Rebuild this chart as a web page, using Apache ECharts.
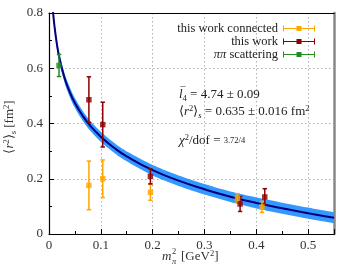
<!DOCTYPE html>
<html><head><meta charset="utf-8">
<script src="https://cdn.jsdelivr.net/npm/echarts/dist/echarts.min.js"></script>
<style>html,body{margin:0;padding:0;background:#fff}#c{width:355px;height:266px}</style>
</head><body><div id="c"></div>
<script>
// ---- data ----
const orangeX = [0.077, 0.1037, 0.1957, 0.3637, 0.411];
const orangeY = [0.176, 0.200, 0.151, 0.130, 0.098];
const orangeErr = [0.088, 0.068, 0.029, 0.016, 0.020];

const redX = [0.077, 0.1037, 0.1957, 0.3688, 0.4164];
const redY = [0.486, 0.396, 0.2085, 0.1086, 0.134];
const redErr = [0.083, 0.081, 0.027, 0.027, 0.030];

const greenX = [0.0193];
const greenY = [0.610];
const greenErr = [0.040];

const fitX = [0.006, 0.008, 0.01, 0.015, 0.02, 0.03, 0.04, 0.05, 0.065, 0.08, 0.1, 0.125, 0.15, 0.2, 0.25, 0.3, 0.35, 0.4, 0.45, 0.5, 0.55];
const fitY = [0.84, 0.80, 0.762, 0.690, 0.638, 0.565, 0.514, 0.474, 0.428, 0.391, 0.352, 0.313, 0.281, 0.231, 0.193, 0.162, 0.135, 0.1125, 0.0935, 0.0755, 0.059];
const fitErr = [0.016, 0.016, 0.016, 0.017, 0.017, 0.017, 0.018, 0.018, 0.018, 0.018, 0.018, 0.018, 0.018, 0.019, 0.019, 0.019, 0.019, 0.02, 0.02, 0.02, 0.02];

const xTickValues = [0, 0.1, 0.2, 0.3, 0.4, 0.5];
const yTickValues = [0, 0.2, 0.4, 0.6, 0.8];

const names = ['this work connected', 'this work', 'ππ scattering'];
const colors = ['#ffa500', '#8b0000', '#228b22'];

// ---- chart ----
const FONT = 'Liberation Serif';
const chart = echarts.init(document.getElementById('c'));

function zip3(xs, ys, es) { return xs.map((x, i) => [x, ys[i], es[i]]); }

function makeErr(color) {
  return function (params, api) {
    const x = api.value(0), y = api.value(1), e = api.value(2);
    const t = api.coord([x, y + e]);
    const b = api.coord([x, y - e]);
    const hw = 2.2;
    const st = { stroke: color, lineWidth: 1.5 };
    return {
      type: 'group',
      children: [
        { type: 'line', shape: { x1: t[0], y1: t[1], x2: b[0], y2: b[1] }, style: st },
        { type: 'line', shape: { x1: t[0] - hw, y1: t[1], x2: t[0] + hw, y2: t[1] }, style: st },
        { type: 'line', shape: { x1: b[0] - hw, y1: b[1], x2: b[0] + hw, y2: b[1] }, style: st }
      ]
    };
  };
}

// Catmull-Rom resampling of pixel points (rendering only)
function spline(pts) {
  const out = [];
  const n = pts.length;
  for (let i = 0; i < n - 1; i++) {
    const p0 = pts[Math.max(i - 1, 0)], p1 = pts[i], p2 = pts[i + 1], p3 = pts[Math.min(i + 2, n - 1)];
    const steps = 10;
    for (let s = 0; s < steps; s++) {
      const t = s / steps, t2 = t * t, t3 = t2 * t;
      out.push([0, 1].map(d => 0.5 * ((2 * p1[d]) + (-p0[d] + p2[d]) * t + (2 * p0[d] - 5 * p1[d] + 4 * p2[d] - p3[d]) * t2 + (-p0[d] + 3 * p1[d] - 3 * p2[d] + p3[d]) * t3)));
    }
  }
  out.push(pts[n - 1]);
  return out;
}

function renderBand(params, api) {
  if (params.dataIndex !== 0) return null;
  const up = fitX.map((x, i) => api.coord([x, fitY[i] + fitErr[i]]));
  const lo = fitX.map((x, i) => api.coord([x, fitY[i] - fitErr[i]]));
  const pts = spline(up).concat(spline(lo).reverse());
  return { type: 'polygon', shape: { points: pts }, style: { fill: '#3399ff', stroke: null } };
}

const iconPath = 'path://M0,0h1v6h-1Z M31,0h1v6h-1Z M0,2.4h32v1.2h-32Z M13.5,0.5h5v5h-5Z';

const rich = {
  i: { fontFamily: FONT, fontStyle: 'italic', fontSize: 13, lineHeight: 16 },
  sup: { fontFamily: FONT, fontSize: 8.5, lineHeight: 9, verticalAlign: 'top' },
  sub: { fontFamily: FONT, fontSize: 8.5, lineHeight: 8, verticalAlign: 'bottom' },
  subi: { fontFamily: FONT, fontStyle: 'italic', fontSize: 8.5, lineHeight: 8, verticalAlign: 'bottom' },
  small: { fontFamily: FONT, fontSize: 8.5, lineHeight: 16 }
};
function txt(x, y, text, styleExtra, extra) {
  return Object.assign({
    type: 'text', x: x, y: y, silent: true, z: 100,
    style: Object.assign({ text: text, fontFamily: FONT, fontSize: 13, lineHeight: 16, fill: '#222', align: 'left', verticalAlign: 'middle', rich: rich }, styleExtra || {})
  }, extra || {});
}

const seriesErr = [
  [orangeX, orangeY, orangeErr],
  [redX, redY, redErr],
  [greenX, greenY, greenErr]
];

const series = [
  { type: 'custom', name: 'band', renderItem: renderBand, data: fitX.map((x, i) => [x, fitY[i]]), clip: true, silent: true, z: 1 },
  { type: 'line', name: 'fit', smooth: true, symbol: 'none', silent: true,
    data: fitX.map((x, i) => [x, fitY[i]]), lineStyle: { color: '#000080', width: 2 }, z: 2 }
];
seriesErr.forEach((s, k) => {
  series.push({ type: 'custom', name: names[k], renderItem: makeErr(colors[k]), data: zip3(s[0], s[1], s[2]),
    itemStyle: { color: colors[k] }, z: 3, silent: true });
  series.push({ type: 'scatter', name: names[k], symbol: 'rect', symbolSize: 5.5, data: s[0].map((x, i) => [x, s[1][i]]),
    itemStyle: { color: colors[k] }, z: 4, silent: true });
});

const axisLabelStyle = { fontFamily: FONT, fontSize: 13, color: '#333' };
const gridLine = { show: true, lineStyle: { color: '#b0b0b0', type: [1.5, 2.5], width: 1 } };

chart.setOption({
  animation: false,
  backgroundColor: '#fff',
  grid: { left: 49, top: 13, width: 285, height: 221 },
  legend: {
    orient: 'vertical', right: 35, top: 17, align: 'right', itemWidth: 32, itemHeight: 6, itemGap: 0,
    selectedMode: false,
    data: names.map(n => ({ name: n, icon: iconPath })),
    formatter: n => n === 'ππ scattering' ? '{it|ππ} scattering' : n,
    textStyle: { fontFamily: FONT, fontSize: 12.5, color: '#222', lineHeight: 11,
      rich: { it: { fontFamily: FONT, fontStyle: 'italic', fontSize: 12.5, lineHeight: 11 } } }
  },
  xAxis: [{
    type: 'value', min: 0, max: 0.55, interval: 0.1,
    axisLine: { show: true, lineStyle: { color: '#000', width: 1.2 } },
    axisTick: { show: true, inside: true, length: 5, lineStyle: { color: '#000' } },
    minorTick: { show: true, splitNumber: 2, length: 3, lineStyle: { color: '#000' } },
    axisLabel: { ...axisLabelStyle, margin: 5, showMaxLabel: false,
      formatter: v => xTickValues.some(t => Math.abs(t - v) < 1e-9) ? String(+v.toFixed(2)) : '' },
    splitLine: gridLine
  }, {
    type: 'value', position: 'top', min: 0, max: 0.55,
    axisLine: { show: true, onZero: false, lineStyle: { color: '#000', width: 1.2 } },
    axisTick: { show: false }, axisLabel: { show: false }, splitLine: { show: false }
  }],
  yAxis: [{
    type: 'value', min: 0, max: 0.8, interval: 0.2,
    axisLine: { show: true, lineStyle: { color: '#000', width: 1.2 } },
    axisTick: { show: true, inside: true, length: 5, lineStyle: { color: '#000' } },
    minorTick: { show: true, splitNumber: 2, length: 3, lineStyle: { color: '#000' } },
    axisLabel: { ...axisLabelStyle, margin: 6,
      formatter: v => yTickValues.some(t => Math.abs(t - v) < 1e-9) ? String(+v.toFixed(1)) : '' },
    splitLine: gridLine
  }, {
    type: 'value', position: 'right', min: 0, max: 0.8,
    axisLine: { show: true, onZero: false, lineStyle: { color: '#888', width: 2.5 } },
    axisTick: { show: false }, axisLabel: { show: false }, splitLine: { show: false }
  }],
  series: series,
  graphic: [
    txt(10, 127, '⟨{i|r}{sup|2}⟩{sub|s} [fm{sup|2}]', { fill: '#333', align: 'center' }, { rotation: Math.PI / 2 }),
    txt(179, 95, '{i|l}{sub|4} = 4.74 ± 0.09'),
    txt(180.5, 91.5, '¯', { fontSize: 10 }),
    txt(179, 112, '⟨{i|r}{sup|2}⟩{subi|s} = 0.635 ± 0.016 fm{sup|2}'),
    txt(179, 141, '{i|χ}{sup|2}/dof = {small|3.72/4}'),
    txt(171.5, 257, 'm', { fill: '#333', align: 'right', fontStyle: 'italic' }),
    txt(172, 252, '2', { fill: '#333', fontSize: 8.5, lineHeight: 9 }),
    txt(172, 262, 'π', { fill: '#333', fontSize: 8.5, lineHeight: 9, fontStyle: 'italic' }),
    txt(181, 257, '[GeV{sup|2}]', { fill: '#333' })
  ]
});
</script>
</body></html>
